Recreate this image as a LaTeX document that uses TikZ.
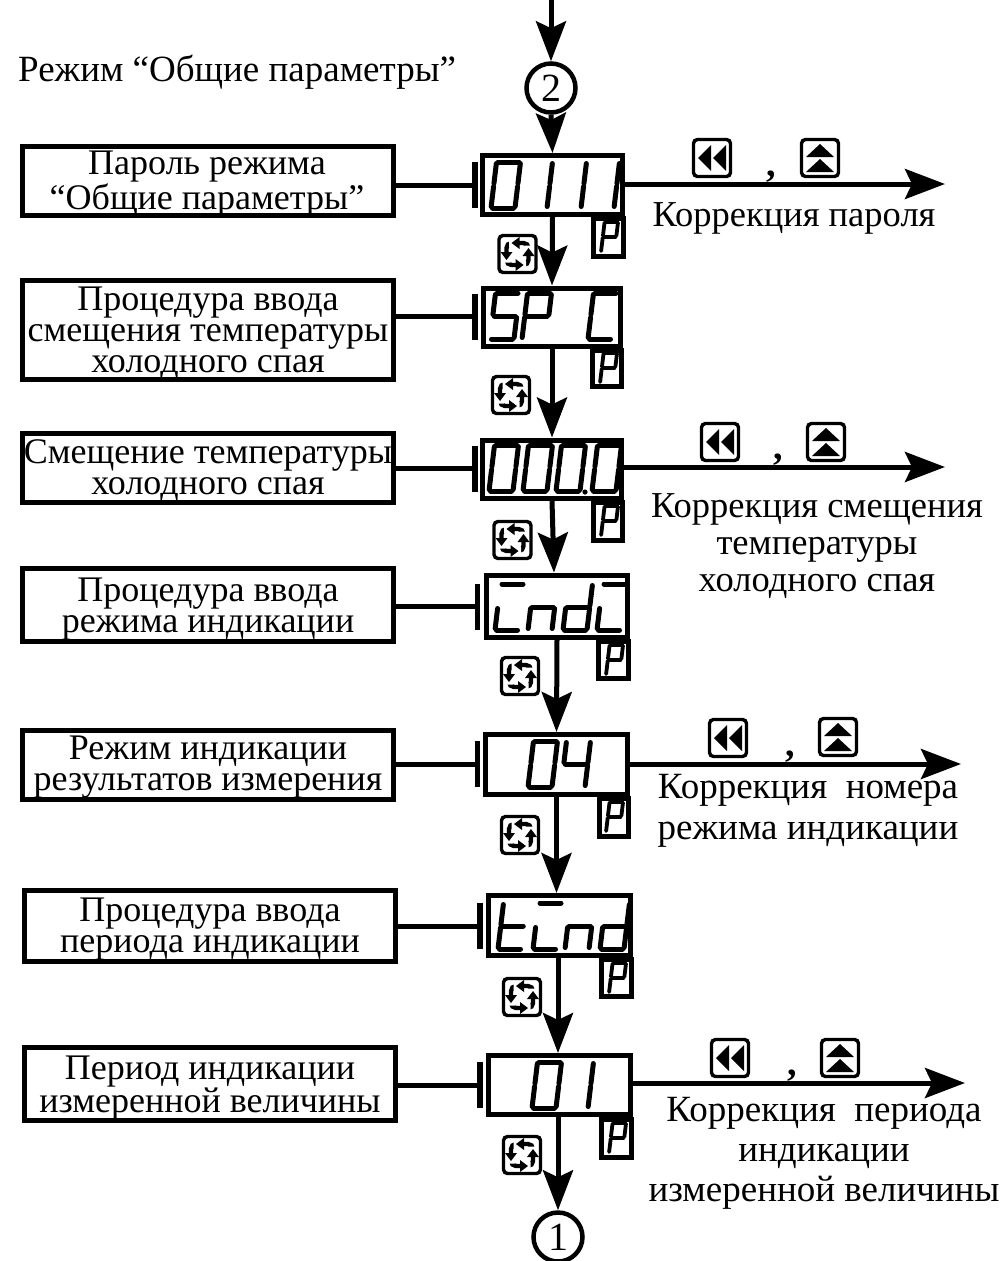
\documentclass[tikz,border=0pt]{standalone}
\usepackage{fontspec}
\setmainfont{Liberation Serif}
\usetikzlibrary{arrows.meta}
% 7-segment parts, w=24, h=46
\def\sga{\draw[segline] (1.5,46)--(22.5,46);}
\def\sgb{\draw[segline] (24,44.5)--(24,24.5);}
\def\sgc{\draw[segline] (24,21.5)--(24,1.5);}
\def\sgd{\draw[segline] (1.5,0)--(22.5,0);}
\def\sge{\draw[segline] (0,21.5)--(0,1.5);}
\def\sgf{\draw[segline] (0,44.5)--(0,24.5);}
\def\sgg{\draw[segline] (1.5,23)--(22.5,23);}
\newcommand\segdigit[3]{%
  \begin{scope}[shift={(#1,#2)},y=1pt,xslant=.12]
    \foreach \s in {#3}{\csname sg\s\endcsname}
  \end{scope}}
\newcommand\segP[2]{%
  \begin{scope}[shift={(#1,#2)},y=.66pt,x=.56pt,xslant=.12,segline/.style={line width=3.8pt,line cap=round}]
    \sga\sgb\sgf\sge\sgg
  \end{scope}}
\newcommand\recbtn[3]{%
  \node[btn] (#1) at (#2,#3) {};
  \begin{scope}[shift={(#2,#3)}]
    \draw[line width=4.4pt,rounded corners=5pt] (-11,-11) rectangle (11,11);
    \fill[white] (-8.5,-15) rectangle (-3,-7) (3,7) rectangle (8.5,15) (-15,3) rectangle (-7,8.5) (7,-8.5) rectangle (15,-3);
    \fill (-6,-11)--(2,-17)--(2,-5)--cycle;
    \fill (6,11)--(-2,17)--(-2,5)--cycle;
    \fill (-11,6)--(-17,-2)--(-5,-2)--cycle;
    \fill (11,-6)--(17,2)--(5,2)--cycle;
  \end{scope}}
\newcommand\rewbtn[3]{%
  \node[btn] (#1) at (#2,#3) {};
  \begin{scope}[shift={(#2,#3)}]
    \fill (-14,0)--(-1,-13)--(-1,13)--cycle;
    \fill (1,0)--(14,-13)--(14,13)--cycle;
  \end{scope}}
\newcommand\upbtn[3]{%
  \node[btn] (#1) at (#2,#3) {};
  \begin{scope}[shift={(#2,#3)}]
    \fill (0,-14)--(-14,-1)--(14,-1)--cycle;
    \fill (0,1)--(-14,14)--(14,14)--cycle;
  \end{scope}}
\newcommand\dn[1]{\rule{0pt}{#1pt}}
\tikzset{
  x=1pt,y=-1pt,
  segline/.style={line width=5pt,line cap=round},
  box/.style={draw,line width=5pt,inner sep=0pt,align=center,rectangle},
  lab/.style={box,font=\fontsize{36}{31}\selectfont},
  plain/.style={inner sep=0pt,align=center,font=\fontsize{36.5}{31}\selectfont},
  comma/.style={inner sep=0pt,anchor=base,font=\fontsize{38}{38}\selectfont\bfseries},
  btn/.style={draw,line width=3.4pt,rounded corners=4pt,minimum width=37pt,minimum height=37pt,inner sep=0pt},
  flow/.style={line width=5pt,-{Stealth[length=40pt,width=30pt,inset=7pt]}},
  thin link/.style={line width=5pt},
  ring/.style={draw,circle,line width=4.5pt,minimum size=49pt,inner sep=0pt,font=\fontsize{40}{40}\selectfont},
  bar/.style={fill=black,inner sep=0pt,minimum width=5.5pt,minimum height=46pt,rectangle},
}
\begin{document}
\begin{tikzpicture}
\useasboundingbox (0,0) rectangle (1005,1261);
\fill[white] (0,0) rectangle (1005,1261);

\node[plain,anchor=west,font=\fontsize{37}{31}\selectfont] (title) at (18,72) {Режим “Общие параметры”};
\coordinate (top) at (551,-2);
\node[ring] (c2) at (551,88) {2};
\node[ring] (c1) at (558,1237) {1};

% displays
\node[box,minimum width=140pt,minimum height=59pt] (d1) at (552.5,185) {};
\node[box,minimum width=137pt,minimum height=58pt] (d2) at (552,317) {};
\node[box,minimum width=139pt,minimum height=58pt] (d3) at (552,469) {};
\node[box,minimum width=141pt,minimum height=62pt] (d4) at (557,606) {};
\node[box,minimum width=142pt,minimum height=60pt] (d5) at (556.5,764.5) {};
\node[box,minimum width=142pt,minimum height=60pt] (d6) at (559.5,925.5) {};
\node[box,minimum width=142pt,minimum height=59pt] (d7) at (559.5,1085) {};

% P boxes
\node[box,minimum width=30pt,minimum height=38pt] (p1) at (608,237) {};
\node[box,minimum width=29pt,minimum height=36pt] (p2) at (606.5,368) {};
\node[box,minimum width=29pt,minimum height=38pt] (p3) at (607.5,521) {};
\node[box,minimum width=30pt,minimum height=37pt] (p4) at (613,660) {};
\node[box,minimum width=29pt,minimum height=38pt] (p5) at (613.5,817) {};
\node[box,minimum width=30pt,minimum height=37pt] (p6) at (616,978) {};
\node[box,minimum width=30pt,minimum height=38pt] (p7) at (616,1138) {};
\segP{601}{252}\segP{600}{383}\segP{601}{536}\segP{606}{675}\segP{606}{832}\segP{609}{993}\segP{609}{1153}

% labels
\node[lab,minimum width=371pt,minimum height=69pt] (l1) at (208,181) {};
\node[plain,font=\fontsize{36}{32}\selectfont] (l1t) at (207,184) {Пароль режима\\“Общие параметры”};
\node[lab,minimum width=371pt,minimum height=99pt] (l2) at (208,330) {\dn{30}Процедура ввода\\смещения температуры\\холодного спая};
\node[lab,minimum width=371pt,minimum height=69pt] (l3) at (208,468) {\dn{28}Смещение температуры\\холодного спая};
\node[lab,minimum width=371pt,minimum height=73pt] (l4) at (208,605) {\dn{31}Процедура ввода\\режима индикации};
\node[lab,minimum width=371pt,minimum height=69pt] (l5) at (208,765) {\dn{28}Режим индикации\\результатов измерения};
\node[lab,minimum width=371pt,minimum height=71pt] (l6) at (210,926) {\dn{30}Процедура ввода\\периода индикации};
\node[lab,minimum width=371pt,minimum height=71pt] (l7) at (210,1084) {\dn{32}Период индикации\\измеренной величины};

% bars
\node[bar] (b1) at (475,185) {};
\node[bar] (b2) at (475,316.5) {};
\node[bar] (b3) at (475,468.5) {};
\node[bar] (b4) at (477.5,606.5) {};
\node[bar] (b5) at (477.5,764) {};
\node[bar] (b6) at (480,926) {};
\node[bar] (b7) at (480,1085) {};
\foreach \i in {1,...,7}{\draw[thin link] (l\i.east |- b\i) -- (b\i.center);}

% flow
\draw[flow] (top) -- (c2.north);
\draw[flow] (c2.south) -- (d1.north);
\draw[flow] (d1.south) -- (d2.north);
\draw[flow] (d2.south) -- (d3.north);
\draw[flow] (d3.south) -- ([xshift=-3pt]d4.north);
\draw[flow] (d4.south) -- (d5.north);
\draw[flow] (d5.south) -- ([xshift=-3pt]d6.north);
\draw[flow] ([xshift=-1.5pt]d6.south) -- ([xshift=-1.5pt]d7.north);
\draw[flow] ([xshift=-1.5pt]d7.south) -- (c1.north);

% outputs
\coordinate (o1) at (945,184);
\coordinate (o3) at (945,467);
\coordinate (o5) at (961,764);
\coordinate (o7) at (965,1083);
\draw[flow] (d1.east |- o1) -- (o1);
\draw[flow] (d3.east |- o3) -- (o3);
\draw[flow] (d5.east |- o5) -- (o5);
\draw[flow] (d7.east |- o7) -- (o7);

% digits
\segdigit{491}{208}{a,b,c,d,e,f}
\segdigit{523}{208}{b,c}
\segdigit{557}{208}{b,c}
\segdigit{590}{208}{b,c}

\segdigit{490}{339}{a,f,g,c,d}
\segdigit{522}{339}{a,b,e,f,g}
\segdigit{588}{339}{a,f,e,d}

\segdigit{489}{491}{a,b,c,d,e,f}
\segdigit{523}{491}{a,b,c,d,e,f}
\segdigit{556}{491}{a,b,c,d,e,f}
\segdigit{592}{491}{a,b,c,d,e,f}
\fill (585,492) circle (2.6);

\segdigit{495}{630}{a,d,e}
\segdigit{528}{630}{e,g,c}
\segdigit{563}{630}{b,c,d,e,g}
\segdigit{597}{630}{a,d,e}

\segdigit{528}{787}{a,b,c,d,e,f}
\segdigit{561}{787}{b,c,f,g}

\segdigit{498}{949}{d,e,f,g}
\segdigit{533}{949}{a,d,e}
\segdigit{565}{949}{c,e,g}
\segdigit{600}{949}{b,c,d,e,g}

\segdigit{532}{1108}{a,b,c,d,e,f}
\segdigit{564}{1108}{b,c}

% buttons
\recbtn{r1}{517.5}{254}
\recbtn{r2}{511}{395}
\recbtn{r3}{512.5}{540}
\recbtn{r4}{520}{676}
\recbtn{r5}{520}{835}
\recbtn{r6}{522}{997}
\recbtn{r7}{522}{1155}

\rewbtn{w1}{712}{158}\upbtn{u1}{820}{158}
\rewbtn{w3}{720}{442}\upbtn{u3}{826}{442}
\rewbtn{w5}{728}{738}\upbtn{u5}{838}{737}
\rewbtn{w7}{730}{1058}\upbtn{u7}{840}{1058}
\node[comma] (k1) at (771,176) {,};
\node[comma] (k3) at (778,459) {,};
\node[comma] (k5) at (790,756) {,};
\node[comma] (k7) at (792,1075) {,};

% correction texts
\node[plain] (t1) at (794,218) {Коррекция пароля};
\node[plain,font=\fontsize{36.5}{37}\selectfont] (t3) at (817,546) {Коррекция смещения\\температуры\\холодного спая};
\node[plain,font=\fontsize{37}{41}\selectfont] (t5) at (808,811) {Коррекция\ \ номера\\режима индикации};
\node[plain,font=\fontsize{37}{40}\selectfont] (t7) at (824,1153) {Коррекция\ \ периода\\индикации\\измеренной величины};
\end{tikzpicture}
\end{document}
